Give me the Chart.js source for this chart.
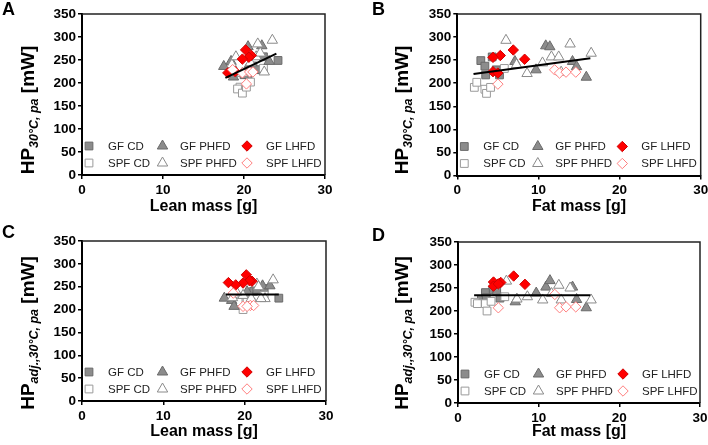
<!doctype html>
<html lang="en">
<head>
<meta charset="utf-8">
<title>Heat production vs lean and fat mass</title>
<script src="https://cdn.jsdelivr.net/npm/chart.js@4.4.1/dist/chart.umd.min.js"></script>
<style>
  html,body{margin:0;padding:0;width:708px;height:445px;overflow:hidden;background:#fff;}
  .panel{position:absolute;}
  .letter{position:absolute;font:bold 18px "Liberation Sans",Arial,sans-serif;line-height:18px;color:#000;}
</style>
</head>
<body>

<div class="panel" style="left:0;top:0;width:354px;height:222px"><canvas id="chartA"></canvas></div>
<div class="panel" style="left:354px;top:0;width:380px;height:222px"><canvas id="chartB"></canvas></div>
<div class="panel" style="left:0;top:222px;width:354px;height:223px"><canvas id="chartC"></canvas></div>
<div class="panel" style="left:354px;top:222px;width:380px;height:223px"><canvas id="chartD"></canvas></div>
<div class="letter" style="left:2px;top:0px">A</div>
<div class="letter" style="left:372px;top:0px">B</div>
<div class="letter" style="left:2px;top:223px">C</div>
<div class="letter" style="left:372px;top:226px">D</div>

<script>
// one entry per mouse: lean mass [g], fat mass [g], HP [mW], adjusted HP [mW]
var gfCdLean  = [24.2, 22.4, 21.1, 20.5, 21.5, 20.0];
var gfCdFat   = [2.9, 4.3, 3.4, 3.5, 4.8, 5.2];
var gfCdHp    = [249, 257, 237, 218, 229, 218];
var gfCdAdj   = [225, 246, 240, 229, 244, 228];

var spfCdLean = [19.5, 20.8, 19.2, 19.8, 20.3, 22.4];
var spfCdFat  = [2.1, 2.4, 3.4, 3.6, 4.1, 5.8];
var spfCdHp   = [191, 202, 187, 178, 191, 232];
var spfCdAdj  = [219, 216, 216, 200, 221, 231];

var gfPhLean  = [22.2, 20.5, 18.4, 20.3, 23.1, 17.5, 18.7];
var gfPhFat   = [10.9, 11.4, 7.1, 9.7, 14.2, 14.7, 15.9];
var gfPhHp    = [281, 279, 247, 229, 247, 236, 213];
var gfPhAdj   = [252, 266, 220, 239, 252, 225, 207];

var spfPhLean = [23.5, 18.5, 19.8, 20.8, 19.0, 21.5, 22.5, 21.7, 22.0];
var spfPhFat  = [6.0, 7.3, 8.6, 10.5, 11.6, 12.5, 12.8, 13.9, 16.5];
var spfPhHp   = [293, 240, 221, 244, 257, 257, 224, 285, 265];
var spfPhAdj  = [265, 226, 231, 224, 238, 256, 224, 250, 224];

var gfLhLean  = [20.2, 20.9, 20.6, 19.8, 18.9, 18.0];
var gfLhFat   = [6.9, 5.3, 4.4, 8.3, 4.4, 5.0];
var gfLhHp    = [272, 260, 256, 252, 225, 222];
var gfLhAdj   = [276, 262, 263, 258, 254, 259];

var spfLhLean = [18.6, 19.8, 20.7, 21.1, 20.3];
var spfLhFat  = [12.0, 12.6, 13.4, 14.6, 5.0];
var spfLhHp   = [229, 222, 224, 224, 198];
var spfLhAdj  = [236, 207, 209, 209, 207];

// regression lines [x0, y0, x1, y1]
var fitA = [17.7, 211, 24.0, 264];
var fitB = [2.0, 220, 16.4, 254];
var fitC = [17.7, 233, 24.2, 233];
var fitD = [2.0, 234, 16.4, 234];

var xTicks = [0, 10, 20, 30];
var yTicks = [0, 50, 100, 150, 200, 250, 300, 350];

var FONT = '"Liberation Sans", Arial, sans-serif';

var groups = [
  {label:'GF CD',    lean:gfCdLean,  fat:gfCdFat,  hp:gfCdHp,  adj:gfCdAdj,  style:'rect',     r:5.5, fill:'#8c8c8c', line:'#6a6a6a', order:6},
  {label:'GF PHFD',  lean:gfPhLean,  fat:gfPhFat,  hp:gfPhHp,  adj:gfPhAdj,  style:'triangle', r:6,   fill:'#8c8c8c', line:'#6a6a6a', order:4},
  {label:'GF LHFD',  lean:gfLhLean,  fat:gfLhFat,  hp:gfLhHp,  adj:gfLhAdj,  style:'rectRot',  r:5.2, fill:'#ff0000', line:'#d00000', order:2},
  {label:'SPF CD',   lean:spfCdLean, fat:spfCdFat, hp:spfCdHp, adj:spfCdAdj, style:'rect',     r:5.5, fill:'#ffffff', line:'#9a9a9a', order:5},
  {label:'SPF PHFD', lean:spfPhLean, fat:spfPhFat, hp:spfPhHp, adj:spfPhAdj, style:'triangle', r:6,   fill:'#ffffff', line:'#8a8a8a', order:3},
  {label:'SPF LHFD', lean:spfLhLean, fat:spfLhFat, hp:spfLhHp, adj:spfLhAdj, style:'rectRot',  r:5.2, fill:'#ffffff', line:'#ff7f7f', order:1}
];

// frame, legend inside the plot and the y title with its subscript
var deco = {
  id: 'deco',
  beforeDatasetsDraw: function(chart){
    var a = chart.chartArea, ctx = chart.ctx;
    ctx.save();
    ctx.strokeStyle = '#222';
    ctx.lineWidth = 1.5;
    ctx.beginPath();
    ctx.moveTo(a.left, a.top);
    ctx.lineTo(a.right, a.top);
    ctx.lineTo(a.right, a.bottom);
    ctx.stroke();
    ctx.restore();
  },
  afterDraw: function(chart, args, o){
    var a = chart.chartArea, ctx = chart.ctx;
    ctx.save();
    var markX = [7, 80.5, 165], textX = [26, 98, 184];
    var rowY = [a.bottom - 29, a.bottom - 12];
    ctx.font = '11.5px ' + FONT;
    ctx.textBaseline = 'middle';
    ctx.textAlign = 'left';
    for (var i = 0; i < groups.length; i++){
      var g = groups[i], col = i % 3, row = Math.floor(i / 3);
      ctx.fillStyle = g.fill;
      ctx.strokeStyle = g.line;
      ctx.lineWidth = 1;
      Chart.helpers.drawPoint(ctx, {pointStyle:g.style, radius:g.r, rotation:0, borderWidth:1}, a.left + markX[col], rowY[row]);
      ctx.fillStyle = '#222';
      ctx.fillText(g.label, a.left + textX[col], rowY[row] + 0.5);
    }
    ctx.restore();

    ctx.save();
    ctx.translate(o.tx, o.ty);
    ctx.rotate(-Math.PI / 2);
    var big = 'bold 19px ' + FONT, small = 'italic bold 12.5px ' + FONT;
    ctx.font = big; var w1 = ctx.measureText('HP').width;
    ctx.font = small; var w2 = ctx.measureText(o.sub).width;
    ctx.font = big; var w3 = ctx.measureText(' [mW]').width;
    var x = -(w1 + w2 + w3) / 2;
    ctx.fillStyle = '#000';
    ctx.textBaseline = 'alphabetic';
    ctx.font = big; ctx.fillText('HP', x, 0); x += w1;
    ctx.font = small; ctx.fillText(o.sub, x, 4); x += w2;
    ctx.font = big; ctx.fillText(' [mW]', x, 0);
    ctx.restore();
  }
};

function pts(xs, ys){
  return xs.map(function(v, i){ return {x:v, y:ys[i]}; });
}

function makePanel(id, xKey, yKey, fit, xTitle, sub, box){
  var datasets = [{
    type:'line', data:[{x:fit[0], y:fit[1]}, {x:fit[2], y:fit[3]}],
    borderColor:'#000', borderWidth:2, pointRadius:0, fill:false, order:0
  }];
  groups.forEach(function(g){
    datasets.push({
      label:g.label, data:pts(g[xKey], g[yKey]),
      pointStyle:g.style, pointRadius:g.r, pointHoverRadius:g.r,
      backgroundColor:g.fill, borderColor:g.line, borderWidth:1, order:g.order
    });
  });
  var tickFont = {family:FONT, size:13.5, weight:'bold'};
  return new Chart(document.getElementById(id), {
    type:'scatter',
    data:{datasets:datasets},
    options:{
      responsive:true, maintainAspectRatio:false, animation:false,
      layout:{padding:{top:box.top, right:box.right, left:0, bottom:0}},
      plugins:{legend:{display:false}, tooltip:{enabled:false}, deco:{tx:box.tx, ty:box.ty, sub:sub}},
      scales:{
        x:{
          type:'linear', min:0, max:30,
          afterBuildTicks:function(s){ s.ticks = xTicks.map(function(v){ return {value:v}; }); },
          afterFit:function(s){ s.height = box.bottom; },
          grid:{drawOnChartArea:false, tickLength:4, color:'#000', lineWidth:1.5},
          border:{color:'#000', width:2},
          ticks:{color:'#000', font:tickFont, padding:3, maxRotation:0},
          title:{display:true, text:xTitle, color:'#000', font:{family:FONT, size:16, weight:'bold'}, padding:{top:0, bottom:box.tpad}}
        },
        y:{
          type:'linear', min:0, max:350,
          afterBuildTicks:function(s){ s.ticks = yTicks.map(function(v){ return {value:v}; }); },
          afterFit:function(s){ s.width = box.left; },
          grid:{drawOnChartArea:false, tickLength:4, color:'#000', lineWidth:1.5},
          border:{color:'#000', width:2},
          ticks:{color:'#000', font:tickFont, padding:2}
        }
      }
    },
    plugins:[deco]
  });
}

makePanel('chartA', 'lean', 'hp',  fitA, 'Lean mass [g]', '30°C, pa',
  {left:82, right:29, top:14, bottom:47, tpad:5.4, tx:34, ty:110});
makePanel('chartB', 'fat',  'hp',  fitB, 'Fat mass [g]',  '30°C, pa',
  {left:103.3, right:33.3, top:14, bottom:46.5, tpad:5.4, tx:54, ty:110});
makePanel('chartC', 'lean', 'adj', fitC, 'Lean mass [g]', 'adj.,30°C, pa',
  {left:82, right:28, top:19, bottom:44, tpad:3.4, tx:34, ty:111});
makePanel('chartD', 'fat',  'adj', fitD, 'Fat mass [g]',  'adj.,30°C, pa',
  {left:104, right:34, top:20, bottom:42, tpad:3.4, tx:54, ty:111});
</script>
</body>
</html>
